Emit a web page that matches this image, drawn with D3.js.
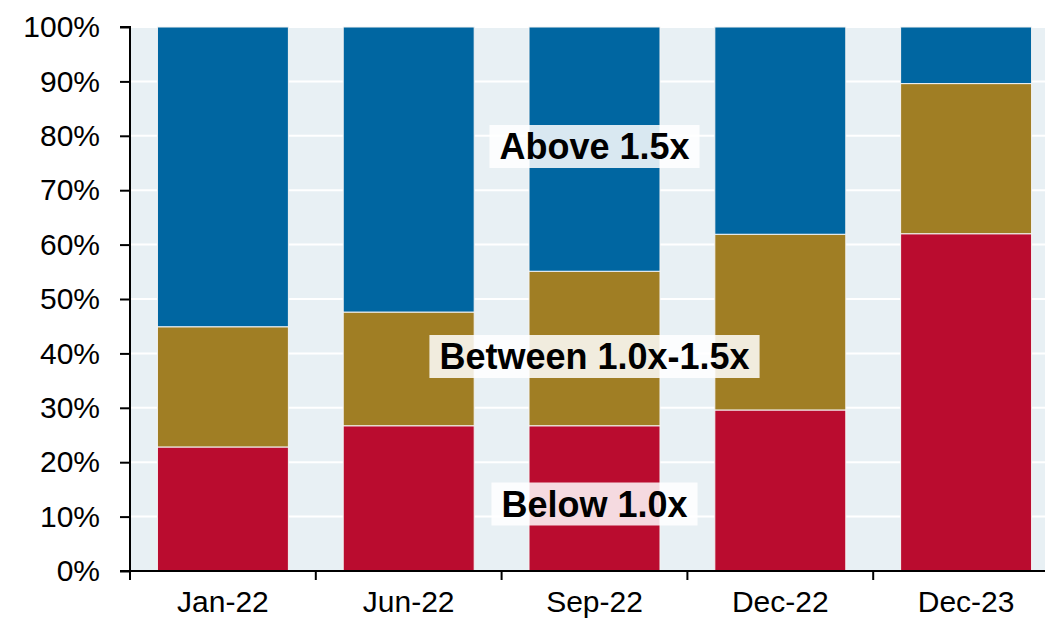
<!DOCTYPE html>
<html>
<head>
<meta charset="utf-8">
<script src="https://cdn.jsdelivr.net/npm/d3@7"></script>
<style>
  body { margin: 0; background: #fff; }
  text { font-family: "Liberation Sans", Arial, sans-serif; }
</style>
</head>
<body>
<script>
var Width = 1045;
var Height = 620;

// data (percent of total)
var categories = ["Jan-22", "Jun-22", "Sep-22", "Dec-22", "Dec-23"];
var below = [22.8, 26.7, 26.7, 29.6, 62.0];
var between = [22.1, 20.9, 28.4, 32.3, 27.6];
var above = [55.1, 52.4, 44.9, 38.1, 10.4];
var yTicks = [0, 10, 20, 30, 40, 50, 60, 70, 80, 90, 100];

var seriesNames = ["Below 1.0x", "Between 1.0x-1.5x", "Above 1.5x"];
var colors = ["#BA0C2F", "#A07E24", "#0066A1"];

var plotLeft = 130, plotTop = 27, plotBottom = 571, plotRight = 1059;

function main() {
  var svg = d3.select("body").append("svg")
    .attr("width", Width)
    .attr("height", Height);

  var xScale = d3.scaleBand()
    .domain(categories)
    .range([plotLeft, plotRight])
    .paddingInner(0.295)
    .paddingOuter(0.1475);

  var yScale = d3.scaleLinear()
    .domain([0, 100])
    .range([plotBottom, plotTop]);

  // plot background
  svg.append("rect")
    .attr("x", plotLeft).attr("y", plotTop)
    .attr("width", plotRight - plotLeft).attr("height", plotBottom - plotTop)
    .attr("fill", "#E8F0F4");

  // white gridlines
  svg.append("g").selectAll("line")
    .data(yTicks.slice(1))
    .enter().append("line")
    .attr("x1", plotLeft).attr("x2", plotRight)
    .attr("y1", function(d) { return yScale(d); })
    .attr("y2", function(d) { return yScale(d); })
    .attr("stroke", "#fff")
    .attr("stroke-width", 2);

  var table = categories.map(function(c, i) {
    return { cat: c, below: below[i], between: between[i], above: above[i] };
  });
  var stack = d3.stack().keys(["below", "between", "above"])(table);

  svg.append("g").selectAll("g")
    .data(stack)
    .enter().append("g")
    .attr("fill", function(d, i) { return colors[i]; })
    .selectAll("rect")
    .data(function(d) { return d; })
    .enter().append("rect")
    .attr("x", function(d) { return xScale(d.data.cat); })
    .attr("y", function(d) { return yScale(d[1]); })
    .attr("width", xScale.bandwidth())
    .attr("height", function(d) { return yScale(d[0]) - yScale(d[1]); })
    .attr("stroke", "#f4f4f4")
    .attr("stroke-width", 1);

  // y axis
  var yAxis = d3.axisLeft(yScale)
    .tickValues(yTicks)
    .tickSize(10)
    .tickPadding(20)
    .tickFormat(function(d) { return d + "%"; });
  var gy = svg.append("g")
    .attr("transform", "translate(" + plotLeft + ",0)")
    .call(yAxis);
  gy.select(".domain").attr("d", "M-10," + plotTop + "H0V" + plotBottom + "H-10");
  gy.selectAll("path, line").attr("stroke", "#000").attr("stroke-width", 2);
  gy.selectAll("text").attr("font-size", 30).attr("fill", "#000")
    .attr("font-family", "Liberation Sans, Arial, sans-serif");

  // x axis: ticks between categories
  var gx = svg.append("g");
  gx.append("line")
    .attr("x1", plotLeft - 1).attr("x2", plotRight)
    .attr("y1", plotBottom).attr("y2", plotBottom)
    .attr("stroke", "#000").attr("stroke-width", 2);
  var step = xScale.step();
  gx.selectAll("line.tick")
    .data(d3.range(categories.length + 1))
    .enter().append("line")
    .attr("class", "tick")
    .attr("x1", function(i) { return plotLeft + i * step; })
    .attr("x2", function(i) { return plotLeft + i * step; })
    .attr("y1", plotBottom).attr("y2", plotBottom + 9)
    .attr("stroke", "#000").attr("stroke-width", 2);
  gx.selectAll("text")
    .data(categories)
    .enter().append("text")
    .attr("x", function(d) { return xScale(d) + xScale.bandwidth() / 2; })
    .attr("y", 612)
    .attr("text-anchor", "middle")
    .attr("font-size", 30)
    .text(function(d) { return d; });

  // series labels
  var labelSize = 36;
  var labels = [
    { text: seriesNames[2], y: 146.5 },
    { text: seriesNames[1], y: 356.5 },
    { text: seriesNames[0], y: 504 }
  ];
  var cx = xScale("Sep-22") + xScale.bandwidth() / 2;
  var lg = svg.append("g").selectAll("g")
    .data(labels)
    .enter().append("g");
  lg.append("rect").attr("class", "bg");
  lg.append("text")
    .attr("x", cx)
    .attr("y", function(d) { return d.y + labelSize * 0.716 / 2; })
    .attr("text-anchor", "middle")
    .attr("font-size", labelSize)
    .attr("font-weight", "bold")
    .attr("fill", "#000")
    .text(function(d) { return d.text; });
  lg.each(function(d) {
    var g = d3.select(this);
    var bb = g.select("text").node().getBBox();
    g.select("rect")
      .attr("x", bb.x - 10).attr("y", d.y - 21.5)
      .attr("width", bb.width + 20).attr("height", 43)
      .attr("fill", "#fff").attr("fill-opacity", 0.85);
  });
}

main();
</script>
</body>
</html>
